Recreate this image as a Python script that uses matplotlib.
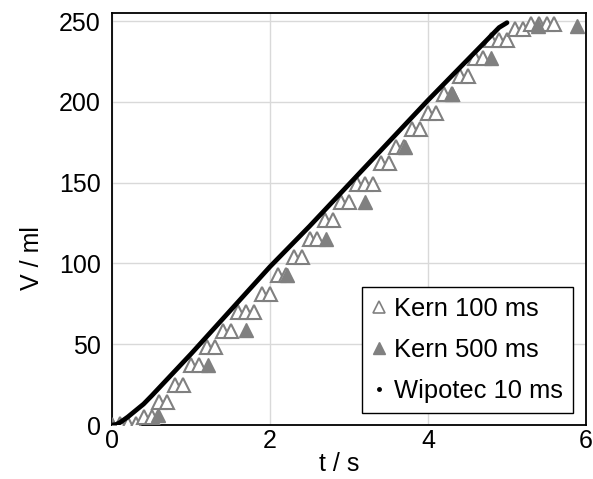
#!/usr/bin/env python3
import matplotlib
matplotlib.use('Agg')
import matplotlib.pyplot as plt
from matplotlib.lines import Line2D

plt.rcParams['font.family'] = ['Liberation Sans', 'DejaVu Sans']
plt.rcParams['font.size'] = 18

# Kern 100 ms (hollow triangles), stepwise display values
kern100_t = [0.0, 0.1, 0.2, 0.3, 0.4, 0.5, 0.6, 0.7, 0.8, 0.9,
             1.0, 1.1, 1.2, 1.3, 1.4, 1.5, 1.6, 1.7, 1.8, 1.9,
             2.0, 2.1, 2.2, 2.3, 2.4, 2.5, 2.6, 2.7, 2.8, 2.9,
             3.0, 3.1, 3.2, 3.3, 3.4, 3.5, 3.6, 3.7, 3.8, 3.9,
             4.0, 4.1, 4.2, 4.3, 4.4, 4.5, 4.6, 4.7, 4.8, 4.9,
             5.0, 5.1, 5.2, 5.3, 5.4, 5.5, 5.6]
kern100_v = [0, 0.5, 0.5, 0.5, 5, 5, 14, 14, 25, 25,
             37, 37, 48, 48, 58, 58, 70, 70, 70, 81,
             81, 93, 93, 104, 104, 115, 115, 127, 127, 138,
             138, 149, 149, 149, 162, 162, 172, 172, 183, 183,
             193, 193, 205, 205, 216, 216, 227, 227, 238, 238,
             238, 245, 245, 248, 248, 248, 248]

# Kern 500 ms (filled triangles)
kern500_t = [0.0, 0.58, 1.21, 1.70, 2.22, 2.71, 3.20, 3.71, 4.30, 4.80, 5.39, 5.89]
kern500_v = [0, 6, 37, 59, 93, 115, 138, 172, 205, 227, 247, 247]

# Wipotec 10 ms (dense points -> drawn as thick curve)
wipo_t = [0.0, 0.05, 0.1, 0.2, 0.3, 0.4, 0.5, 0.75, 1.0, 1.5, 2.0, 2.5,
          3.0, 3.5, 4.0, 4.4, 4.6, 4.8, 4.9, 5.0]
wipo_v = [0, 0.3, 1.5, 5, 9, 13, 18, 31, 44, 71, 98, 123,
          149, 175, 201, 221, 231, 241, 246, 249]

grey = '#808080'

fig = plt.figure(figsize=(5.93, 4.79), dpi=100)
ax = fig.add_axes([0.1889, 0.1127, 0.7993, 0.8602])

ax.plot(kern100_t, kern100_v, ls='none', marker='^', ms=10, mfc='white',
        mec=grey, mew=1.5, zorder=3)
ax.plot(kern500_t, kern500_v, ls='none', marker='^', ms=10, mfc=grey,
        mec=grey, mew=1.0, zorder=3)
ax.plot(wipo_t, wipo_v, color='black', lw=3.4, solid_capstyle='round', zorder=4)

ax.set_xlim(0, 6)
ax.set_ylim(0, 255)
ax.set_xticks([0, 2, 4, 6])
ax.set_yticks([0, 50, 100, 150, 200, 250])
ax.grid(True, color='#d9d9d9', lw=1.0)
ax.set_axisbelow(True)
ax.tick_params(length=0)
ax.tick_params(axis='y', pad=8)
ax.tick_params(axis='x', pad=3)
for s in ax.spines.values():
    s.set_color('black')
    s.set_linewidth(1.3)

ax.set_xlabel('t / s')
ax.set_ylabel('V / ml')
ax.xaxis.set_label_coords(0.48, -0.065)
ax.yaxis.set_label_coords(-0.144, 0.405)

handles = [
    Line2D([], [], ls='none', marker='^', ms=8, mfc='white', mec=grey, mew=1.2),
    Line2D([], [], ls='none', marker='^', ms=8, mfc=grey, mec=grey),
    Line2D([], [], ls='none', marker='.', ms=5, color='black'),
]
leg = ax.legend(handles, ['Kern 100 ms', 'Kern 500 ms', 'Wipotec 10 ms'],
                loc='lower right', bbox_to_anchor=(0.9725, 0.029),
                borderaxespad=0, fancybox=False, framealpha=1,
                edgecolor='black', handlelength=0.6, handletextpad=0.3,
                labelspacing=0.68, borderpad=0.38, fontsize=18.4)
leg.get_frame().set_linewidth(1.0)

fig.savefig('out.png', dpi=100)
